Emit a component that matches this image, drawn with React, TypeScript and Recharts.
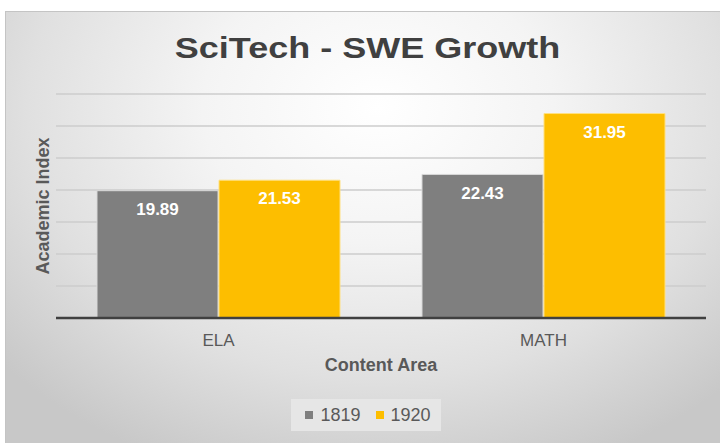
import { BarChart, Bar, XAxis, YAxis, CartesianGrid, Legend, LabelList } from 'recharts';

const CATEGORIES = ['ELA', 'MATH'];
const SERIES_1819 = [19.89, 22.43];
const SERIES_1920 = [21.53, 31.95];
const Y_TICKS = [0, 5, 10, 15, 20, 25, 30, 35];

const GRAY = '#7f7f7f';
const GOLD = '#fdbe00';
const TEXT = '#595959';
const FONT = '"Liberation Sans", Arial, sans-serif';

const data = CATEGORIES.map((name, i) => ({
  name,
  y1819: SERIES_1819[i],
  y1920: SERIES_1920[i],
}));

const LegendBox = () => (
  <div style={{ display: 'flex', justifyContent: 'center', paddingLeft: 20 }}>
    <div
      style={{
        display: 'flex',
        alignItems: 'center',
        gap: 7,
        height: 32,
        padding: '0 10px 0 14px',
        background: '#e6e6e6',
        fontFamily: FONT,
        fontSize: 18,
        color: TEXT,
      }}
    >
      <span style={{ width: 8, height: 8, background: GRAY, display: 'inline-block' }} />
      <span style={{ marginRight: 8 }}>1819</span>
      <span style={{ width: 8, height: 8, background: GOLD, display: 'inline-block' }} />
      <span>1920</span>
    </div>
  </div>
);

export default function App() {
  return (
    <div
      style={{
        position: 'absolute',
        left: 5,
        top: 11,
        width: 715,
        height: 432,
        borderTop: '1px solid #c4c4c4',
        borderLeft: '1px solid #c4c4c4',
        background:
          'radial-gradient(ellipse 70% 90% at 52% 22%, #ffffff 0%, #f4f4f4 35%, #e0e0e0 70%, #c8c8c8 100%)',
        fontFamily: FONT,
      }}
    >
      <div
        style={{
          position: 'absolute',
          top: 19,
          left: 0,
          width: 715,
          textAlign: 'center',
          fontSize: 30,
          fontWeight: 'bold',
          color: '#404040',
          transform: 'translateX(4px) scaleX(1.2)',
        }}
      >
        SciTech - SWE Growth
      </div>
      <BarChart
        width={715}
        height={432}
        data={data}
        margin={{ top: 82, right: 15, left: 0, bottom: 13 }}
        barGap={1}
        barSize={121}
      >
        <CartesianGrid vertical={false} stroke="#cccccc" strokeWidth={1.5} />
        <XAxis
          dataKey="name"
          height={81}
          tickLine={false}
          tickMargin={10}
          tick={{ fill: TEXT, fontSize: 17, fontFamily: FONT }}
          axisLine={{ stroke: '#404040', strokeWidth: 2.5 }}
          label={{
            value: 'Content Area',
            position: 'insideTop',
            offset: 40,
            fill: TEXT,
            fontSize: 18,
            fontWeight: 'bold',
            fontFamily: FONT,
          }}
        />
        <YAxis
          width={50}
          domain={[0, 35]}
          ticks={Y_TICKS}
          tickFormatter={() => ''}
          tickLine={false}
          axisLine={false}
          label={{
            value: 'Academic Index',
            angle: -90,
            position: 'center',
            dx: 12,
            fill: TEXT,
            fontSize: 18,
            fontWeight: 'bold',
            fontFamily: FONT,
          }}
        />
        <Legend verticalAlign="bottom" content={<LegendBox />} />
        <Bar dataKey="y1819" name="1819" fill={GRAY} stroke="#d8d8d8" strokeWidth={1} isAnimationActive={false}>
          <LabelList
            dataKey="y1819"
            position="insideTop"
            offset={12}
            fill="#ffffff"
            fontSize={17}
            fontWeight="bold"
            fontFamily={FONT}
          />
        </Bar>
        <Bar dataKey="y1920" name="1920" fill={GOLD} stroke="#ffe080" strokeWidth={1} isAnimationActive={false}>
          <LabelList
            dataKey="y1920"
            position="insideTop"
            offset={12}
            fill="#ffffff"
            fontSize={17}
            fontWeight="bold"
            fontFamily={FONT}
          />
        </Bar>
      </BarChart>
    </div>
  );
}
